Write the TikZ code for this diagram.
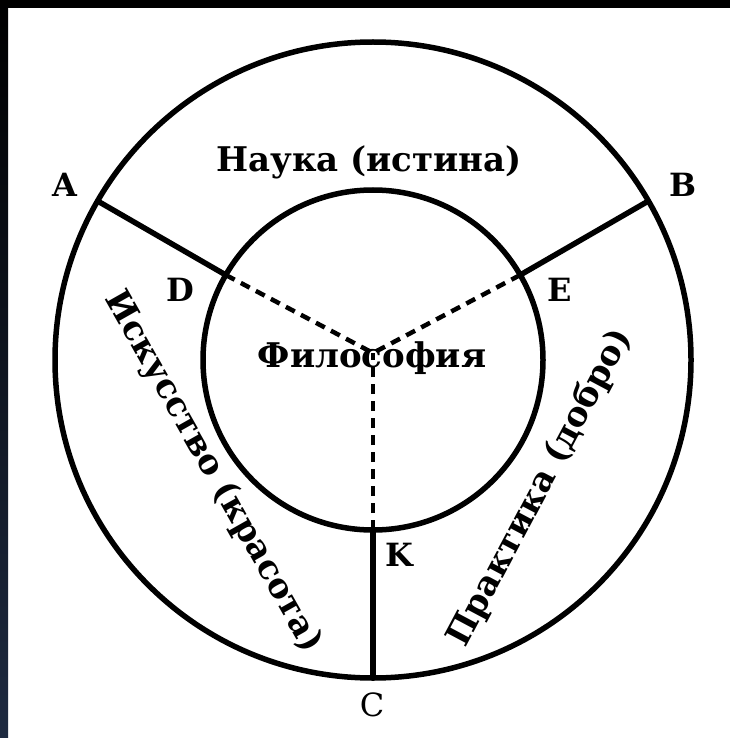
\documentclass[tikz,border=0pt]{standalone}
\usepackage{fontspec}
\setmainfont{DejaVu Serif}
\begin{document}
\begin{tikzpicture}[x=1pt,y=-1pt,
  solidline/.style={line width=5.5pt},
  dashline/.style={line width=4.5pt,dash pattern=on 10pt off 7pt},
  bigtxt/.style={font=\bfseries\fontsize{34}{36}\selectfont,inner sep=0pt},
  lbl/.style={font=\bfseries\fontsize{32}{34}\selectfont,inner sep=0pt}]
\useasboundingbox (0,0) rectangle (730,738);
\fill[white] (0,0) rectangle (730,738);
\fill[black] (0,0) rectangle (730,8);
\shade[top color=black,bottom color={rgb,255:red,30;green,42;blue,64}] (0,0) rectangle (8,738);
\coordinate (O) at (373,360);
\coordinate (M) at (373,353);
\coordinate (A) at (97.6,201);
\coordinate (B) at (648.4,201);
\coordinate (C) at (373,678);
\coordinate (D) at (225.8,275);
\coordinate (E) at (520.2,275);
\coordinate (K) at (373,530);
\draw[solidline] (O) circle[radius=318];
\draw[solidline] (O) circle[radius=170];
\draw[solidline] (A) -- (D);
\draw[solidline] (B) -- (E);
\draw[solidline] (C) -- (K);
\draw[dashline] (D) -- (M);
\draw[dashline] (E) -- (M);
\draw[dashline] (K) -- (M);
\node[bigtxt] (nauka) at (369,162) {Наука (истина)};
\node[bigtxt] (fil) at (372,358) {Философия};
\node[bigtxt,rotate=-60.5] (isk) at (213,472) {Искусство (красота)};
\node[bigtxt,rotate=62] (prak) at (540,488) {Практика (добро)};
\node[lbl] (la) at (65,185) {A};
\node[lbl] (lb) at (683,185) {B};
\node[lbl,font=\fontsize{32}{34}\selectfont] (lc) at (372,705) {C};
\node[lbl] (ld) at (180,290) {D};
\node[lbl] (le) at (560,290) {E};
\node[lbl] (lk) at (399,555) {K};
\end{tikzpicture}
\end{document}
